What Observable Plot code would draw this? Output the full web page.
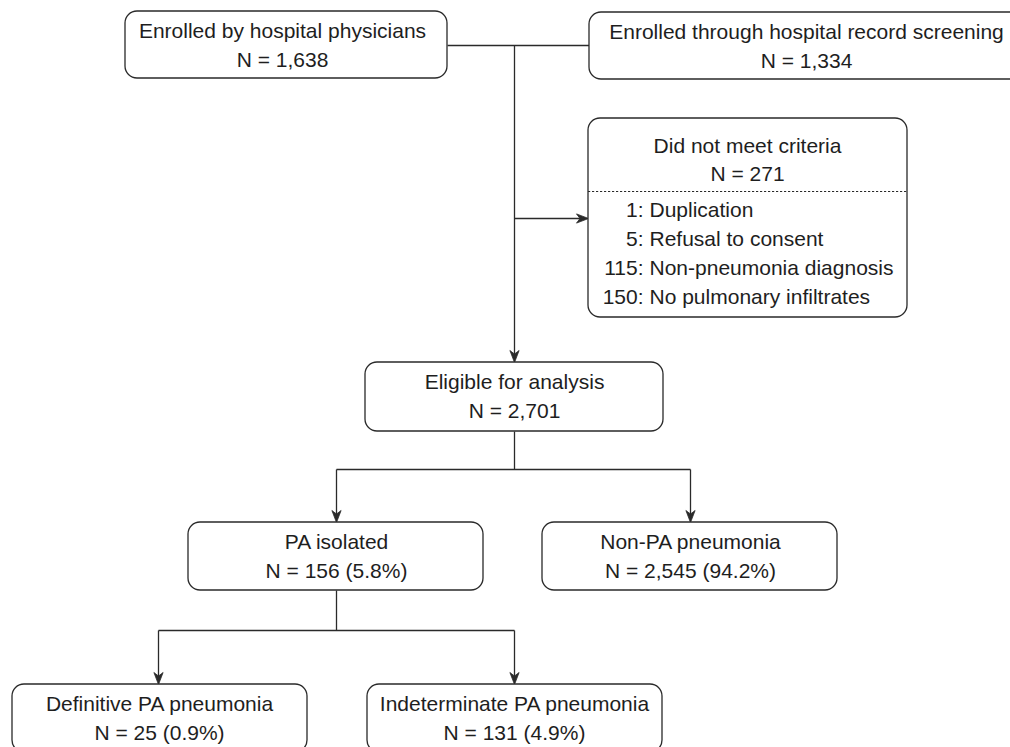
<!DOCTYPE html>
<html>
<head>
<meta charset="utf-8">
<script src="https://cdn.jsdelivr.net/npm/d3@7"></script>
<script src="https://cdn.jsdelivr.net/npm/@observablehq/plot@0.6"></script>
<style>
  html, body { margin: 0; padding: 0; background: #ffffff; }
  svg { display: block; }
</style>
</head>
<body>
<script>
// ---- Chart content (data) ----
const boxTitles = [
  "Enrolled by hospital physicians",
  "Enrolled through hospital record screening",
  "Did not meet criteria",
  "Eligible for analysis",
  "PA isolated",
  "Non-PA pneumonia",
  "Definitive PA pneumonia",
  "Indeterminate PA pneumonia"
];
const boxCounts = [1638, 1334, 271, 2701, 156, 2545, 25, 131];
const boxPercents = [null, null, null, null, 5.8, 94.2, 0.9, 4.9];
const exclusionCounts = [1, 5, 115, 150];
const exclusionReasons = [
  "Duplication",
  "Refusal to consent",
  "Non-pneumonia diagnosis",
  "No pulmonary infiltrates"
];

// ---- Layout (pixel space of the canvas) ----
const W = 1010, H = 747;
const boxLayout = [
  {x1: 125, x2: 447, y1: 11,  y2: 78,  tx: 282},
  {x1: 589, x2: 1024, y1: 12, y2: 79,  tx: 806},
  {x1: 588, x2: 907, y1: 118, y2: 317, tx: 747},
  {x1: 365, x2: 663, y1: 362, y2: 431, tx: 514},
  {x1: 188, x2: 483, y1: 522, y2: 590, tx: 336},
  {x1: 542, x2: 837, y1: 522, y2: 590, tx: 690},
  {x1: 12,  x2: 307, y1: 684, y2: 752, tx: 159},
  {x1: 367, x2: 662, y1: 684, y2: 752, tx: 514}
];
const connectorLayout = [
  {x1: 447, y1: 45,  x2: 589, y2: 45,  arrow: false},
  {x1: 514, y1: 45,  x2: 514, y2: 362, arrow: true},
  {x1: 514, y1: 218, x2: 588, y2: 218, arrow: true},
  {x1: 514, y1: 431, x2: 514, y2: 469, arrow: false},
  {x1: 336, y1: 469, x2: 690, y2: 469, arrow: false},
  {x1: 336, y1: 469, x2: 336, y2: 522, arrow: true},
  {x1: 690, y1: 469, x2: 690, y2: 522, arrow: true},
  {x1: 336, y1: 590, x2: 336, y2: 630, arrow: false},
  {x1: 158, y1: 630, x2: 514, y2: 630, arrow: false},
  {x1: 158, y1: 630, x2: 158, y2: 684, arrow: true},
  {x1: 514, y1: 630, x2: 514, y2: 684, arrow: true}
];
const exclusionColonX = 643, exclusionTextX = 649;
const exclusionBaselines = [216, 245, 274, 303];
const dividerY = 191;

// ---- Derived tables ----
const fmt = d3.format(",");
const boxes = boxTitles.map((t, i) => ({
  ...boxLayout[i],
  title: t,
  count: "N = " + fmt(boxCounts[i]) + (boxPercents[i] != null ? ` (${boxPercents[i]}%)` : "")
}));
const textRows = [];
boxes.forEach((b, i) => {
  const special = i === 2;
  textRows.push({x: b.tx, y: b.y1 + (special ? 34 : 26), text: b.title});
  textRows.push({x: b.tx, y: b.y1 + (special ? 62 : 55), text: b.count});
});
const exclRows = exclusionCounts.map((c, i) => ({
  num: c + ":", reason: exclusionReasons[i], y: exclusionBaselines[i]
}));

// arrowheads: filled concave heads at the end of each arrow connector
const heads = [];
connectorLayout.filter(c => c.arrow).forEach((c, k) => {
  const dx = c.x2 - c.x1, dy = c.y2 - c.y1, L = Math.hypot(dx, dy);
  const ux = dx / L, uy = dy / L, px = -uy, py = ux;
  const len = 12, hw = 4.6, notch = 8.5;
  const pts = [
    [c.x2, c.y2],
    [c.x2 - ux * len + px * hw, c.y2 - uy * len + py * hw],
    [c.x2 - ux * notch, c.y2 - uy * notch],
    [c.x2 - ux * len - px * hw, c.y2 - uy * len - py * hw],
    [c.x2, c.y2]
  ];
  pts.forEach(p => heads.push({id: k, x: p[0], y: p[1]}));
});

const ink = "#2a2a2a";
const font = "'Liberation Sans', Arial, Helvetica, sans-serif";

const chart = Plot.plot({
  width: W,
  height: H,
  margin: 0,
  x: {domain: [0, W], range: [0, W], axis: null},
  y: {domain: [0, H], range: [0, H], axis: null},
  style: {background: "#ffffff", fontFamily: font},
  marks: [
    Plot.link(connectorLayout, {
      x1: "x1", y1: "y1", x2: d => d.arrow ? d.x2 - Math.sign(d.x2 - d.x1) * 8 : d.x2,
      y2: d => d.arrow ? d.y2 - Math.sign(d.y2 - d.y1) * 8 : d.y2,
      stroke: ink, strokeWidth: 1.3
    }),
    Plot.line(heads, {x: "x", y: "y", z: "id", fill: ink, stroke: ink, strokeWidth: 0.8, curve: "linear"}),
    Plot.rect(boxes, {
      x1: "x1", x2: "x2", y1: "y1", y2: "y2", rx: 12,
      fill: "#ffffff", stroke: ink, strokeWidth: 1.3
    }),
    Plot.ruleY([dividerY], {x1: boxLayout[2].x1, x2: boxLayout[2].x2, stroke: ink, strokeWidth: 1, strokeDasharray: "2.2,1.8"}),
    Plot.text(textRows, {
      x: "x", y: "y", text: "text", textAnchor: "middle", lineAnchor: "bottom",
      fontSize: 21, fill: "#1e1e1e", fontFamily: font
    }),
    Plot.text(exclRows, {
      x: () => exclusionColonX, y: "y", text: "num", textAnchor: "end", lineAnchor: "bottom",
      fontSize: 21, fill: "#1e1e1e", fontFamily: font
    }),
    Plot.text(exclRows, {
      x: () => exclusionTextX, y: "y", text: "reason", textAnchor: "start", lineAnchor: "bottom",
      fontSize: 21, fill: "#1e1e1e", fontFamily: font
    })
  ]
});
document.body.appendChild(chart);
</script>
</body>
</html>
